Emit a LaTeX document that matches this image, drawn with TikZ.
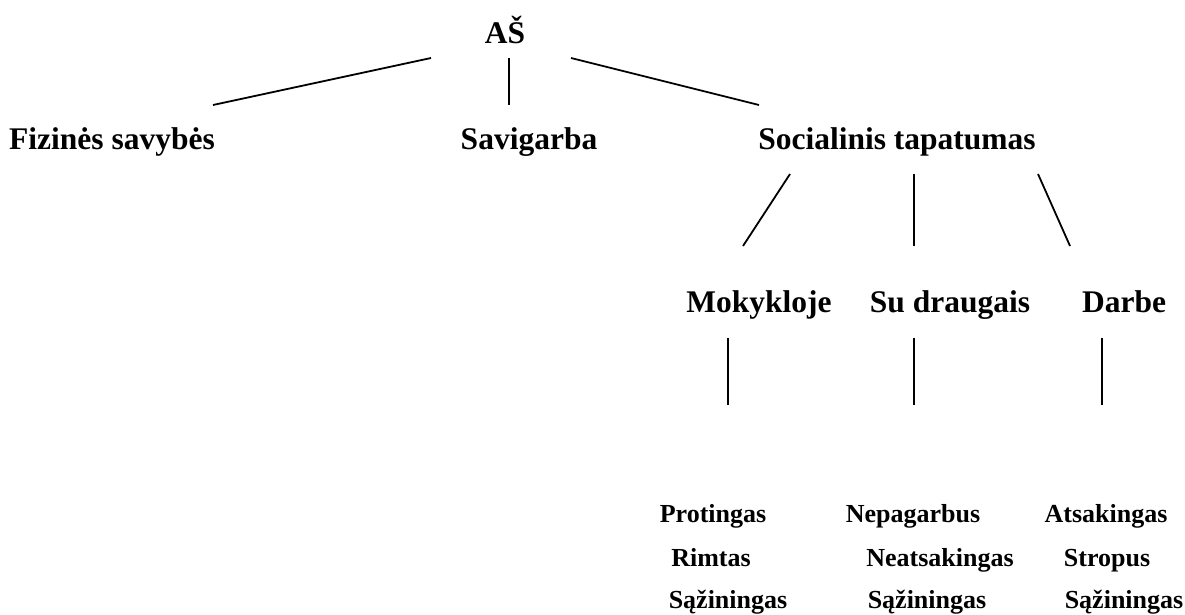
\documentclass[tikz,border=0pt]{standalone}
\usepackage{fontspec}
\setmainfont{Liberation Serif}
\begin{document}
\begin{tikzpicture}[x=1pt,y=-1pt,
  big/.style={font=\fontsize{31.5}{36}\selectfont\bfseries, inner sep=0pt, anchor=base},
  small/.style={font=\fontsize{26}{30}\selectfont\bfseries, inner sep=0pt, anchor=base},
  link/.style={line width=1.8pt, black}]
\useasboundingbox (0,0) rectangle (1185,614);
% nodes (positions are baselines)
\node[big] (as) at (505,43) {AŠ};
\node[big] (fiz) at (112,149) {Fizinės savybės};
\node[big] (sav) at (529,149) {Savigarba};
\node[big] (soc) at (897,149) {Socialinis tapatumas};
\node[big] (mok) at (759,312) {Mokykloje};
\node[big] (dra) at (950,312) {Su draugais};
\node[big] (dar) at (1124,312) {Darbe};
\node[small] (p1) at (713,522) {Protingas};
\node[small] (p2) at (711,566) {Rimtas};
\node[small] (p3) at (728,608) {Sąžiningas};
\node[small] (n1) at (913,522) {Nepagarbus};
\node[small] (n2) at (940,566) {Neatsakingas};
\node[small] (n3) at (927,608) {Sąžiningas};
\node[small] (a1) at (1106,522) {Atsakingas};
\node[small] (a2) at (1107,566) {Stropus};
\node[small] (a3) at (1124,608) {Sąžiningas};
% connector ends
\coordinate (asL) at (431,58);  \coordinate (fizT) at (213,105);
\coordinate (asM) at (509,58);  \coordinate (savT) at (509,105);
\coordinate (asR) at (571,58);  \coordinate (socT) at (759,105);
\coordinate (socL) at (790,174); \coordinate (mokT) at (743,246);
\coordinate (socM) at (914,174); \coordinate (draT) at (914,246);
\coordinate (socR) at (1038,174); \coordinate (darT) at (1070,246);
\coordinate (mokB) at (728,338); \coordinate (mokE) at (728,405);
\coordinate (draB) at (914,338); \coordinate (draE) at (914,405);
\coordinate (darB) at (1102,338); \coordinate (darE) at (1102,405);
\draw[link] (asL) -- (fizT);
\draw[link] (asM) -- (savT);
\draw[link] (asR) -- (socT);
\draw[link] (socL) -- (mokT);
\draw[link] (socM) -- (draT);
\draw[link] (socR) -- (darT);
\draw[link] (mokB) -- (mokE);
\draw[link] (draB) -- (draE);
\draw[link] (darB) -- (darE);
\end{tikzpicture}
\end{document}
